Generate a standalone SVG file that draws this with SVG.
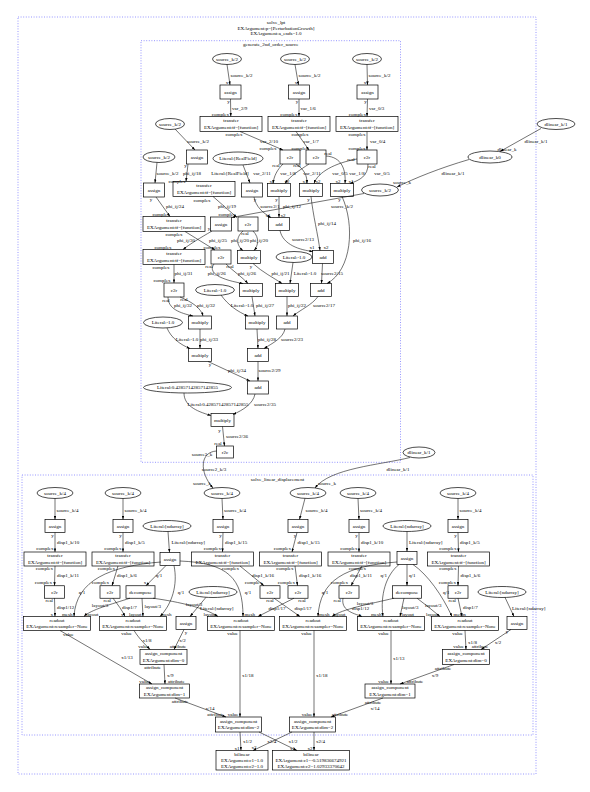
<svg xmlns="http://www.w3.org/2000/svg" width="590" height="792" viewBox="0 0 590 792">
<defs>
<marker id="ah" viewBox="0 0 6 4" refX="6" refY="2" markerWidth="3.6" markerHeight="2.6" orient="auto" markerUnits="userSpaceOnUse"><path d="M0,0L6,2L0,4z" fill="#000"/></marker>
<style>
text{font-family:"Liberation Serif","Times New Roman",serif;font-size:5px;fill:#000}
.n,.l{text-anchor:middle}
.s{text-anchor:start}
.r{text-anchor:end}
.b{fill:#fff;stroke:#000;stroke-width:0.7}
.cl{fill:none;stroke:#8a8aff;stroke-width:0.9;stroke-dasharray:1 1.6}
.e path{fill:none;stroke:#000;stroke-width:0.55;marker-end:url(#ah)}
</style>
</defs>
<rect width="590" height="792" fill="#fff"/>
<g id="clusters">
<rect class="cl" x="18" y="17" width="518" height="757"/>
<rect class="cl" x="141" y="40.7" width="259.5" height="421.6"/>
<rect class="cl" x="22" y="475" width="511" height="260"/>
<text class="n" x="276" y="23.5">solve_lpt</text>
<text class="n" x="276" y="29.5">EXArgument:p=[PerturbationGrowth]</text>
<text class="n" x="276" y="35.3">EXArgument:a_ends=1.0</text>
<text class="n" x="270.7" y="46">generate_2nd_order_source</text>
<text class="n" x="277.5" y="481">solve_linear_displacement</text>
</g>
<g id="nodes">
<g id="sA"><ellipse class="b" cx="227" cy="59" rx="14.5" ry="5.5"/><text class="n" x="227" y="60.8">source_k/2</text></g>
<g id="sB"><ellipse class="b" cx="295" cy="59" rx="14.5" ry="5.5"/><text class="n" x="295" y="60.8">source_k/2</text></g>
<g id="sD"><ellipse class="b" cx="367" cy="59" rx="14.5" ry="5.5"/><text class="n" x="367" y="60.8">source_k/2</text></g>
<g id="sC"><ellipse class="b" cx="170" cy="124" rx="14.5" ry="5.5"/><text class="n" x="170" y="125.8">source_k/2</text></g>
<g id="sE"><ellipse class="b" cx="159" cy="157" rx="16" ry="5.5"/><text class="n" x="159" y="158.8">source_k/2</text></g>
<g id="sF"><ellipse class="b" cx="380" cy="190" rx="18.5" ry="6"/><text class="n" x="380" y="191.8">source_k/2</text></g>
<g id="aA"><rect class="b" x="220" y="85" width="21" height="14"/><text class="n" x="230.5" y="93.8">assign</text></g>
<g id="aB"><rect class="b" x="288.5" y="85" width="21" height="14"/><text class="n" x="299" y="93.8">assign</text></g>
<g id="aD"><rect class="b" x="357" y="85" width="21" height="14"/><text class="n" x="367.5" y="93.8">assign</text></g>
<g id="aC"><rect class="b" x="186.5" y="150" width="21" height="14"/><text class="n" x="197" y="158.8">assign</text></g>
<g id="aRF"><rect class="b" x="241.5" y="183" width="21" height="14"/><text class="n" x="252" y="191.8">assign</text></g>
<g id="aE"><rect class="b" x="143.5" y="183" width="21" height="14"/><text class="n" x="154" y="191.8">assign</text></g>
<g id="aF"><rect class="b" x="210.5" y="217" width="21" height="14"/><text class="n" x="221" y="225.8">assign</text></g>
<g id="tA"><rect class="b" x="200" y="116.5" width="62" height="15"/><text class="n" x="231" y="122.3">transfer</text><text class="n" x="231" y="128.5">EXArgument:tf=[function]</text></g>
<g id="tB"><rect class="b" x="268" y="116.5" width="62" height="15"/><text class="n" x="299" y="122.3">transfer</text><text class="n" x="299" y="128.5">EXArgument:tf=[function]</text></g>
<g id="tD"><rect class="b" x="336" y="116.5" width="62" height="15"/><text class="n" x="367" y="122.3">transfer</text><text class="n" x="367" y="128.5">EXArgument:tf=[function]</text></g>
<g id="tC"><rect class="b" x="173" y="181.5" width="62" height="15"/><text class="n" x="204" y="187.3">transfer</text><text class="n" x="204" y="193.5">EXArgument:tf=[function]</text></g>
<g id="tE"><rect class="b" x="143" y="216.5" width="62" height="15"/><text class="n" x="174" y="222.3">transfer</text><text class="n" x="174" y="228.5">EXArgument:tf=[function]</text></g>
<g id="tF"><rect class="b" x="143" y="249.5" width="62" height="15"/><text class="n" x="174" y="255.3">transfer</text><text class="n" x="174" y="261.5">EXArgument:tf=[function]</text></g>
<g id="LRF"><ellipse class="b" cx="238" cy="158.5" rx="25" ry="6.5"/><text class="n" x="238" y="160.3">Literal:[RealField]</text></g>
<g id="cA"><rect class="b" x="280" y="150" width="20" height="14"/><text class="n" x="290" y="158.8">c2r</text></g>
<g id="cB"><rect class="b" x="306" y="150" width="20" height="14"/><text class="n" x="316" y="158.8">c2r</text></g>
<g id="cD"><rect class="b" x="357" y="150" width="20" height="14"/><text class="n" x="367" y="158.8">c2r</text></g>
<g id="cC"><rect class="b" x="238" y="217" width="20" height="14"/><text class="n" x="248" y="225.8">c2r</text></g>
<g id="cE"><rect class="b" x="211" y="250" width="20" height="14"/><text class="n" x="221" y="258.8">c2r</text></g>
<g id="cF"><rect class="b" x="164" y="283" width="20" height="14"/><text class="n" x="174" y="291.8">c2r</text></g>
<g id="m1"><rect class="b" x="267.5" y="183.5" width="23" height="13"/><text class="n" x="279" y="191.8">multiply</text></g>
<g id="m2"><rect class="b" x="299.5" y="183.5" width="23" height="13"/><text class="n" x="311" y="191.8">multiply</text></g>
<g id="m3"><rect class="b" x="330.5" y="183.5" width="23" height="13"/><text class="n" x="342" y="191.8">multiply</text></g>
<g id="mC1"><rect class="b" x="237.5" y="250.5" width="23" height="13"/><text class="n" x="249" y="258.8">multiply</text></g>
<g id="mC2"><rect class="b" x="275.5" y="283.5" width="23" height="13"/><text class="n" x="287" y="291.8">multiply</text></g>
<g id="mE1"><rect class="b" x="239.5" y="283.5" width="23" height="13"/><text class="n" x="251" y="291.8">multiply</text></g>
<g id="mE2"><rect class="b" x="245.5" y="316" width="23" height="13"/><text class="n" x="257" y="324.3">multiply</text></g>
<g id="mF1"><rect class="b" x="188.5" y="316" width="23" height="13"/><text class="n" x="200" y="324.3">multiply</text></g>
<g id="mF2"><rect class="b" x="188.5" y="348.5" width="23" height="13"/><text class="n" x="200" y="356.8">multiply</text></g>
<g id="mL"><rect class="b" x="211" y="413.5" width="23" height="13"/><text class="n" x="222.5" y="421.8">multiply</text></g>
<g id="ad1"><rect class="b" x="268.5" y="217.5" width="21" height="13"/><text class="n" x="279" y="225.8">add</text></g>
<g id="ad2"><rect class="b" x="312.5" y="250.5" width="21" height="13"/><text class="n" x="323" y="258.8">add</text></g>
<g id="ad3"><rect class="b" x="310.5" y="283.5" width="21" height="13"/><text class="n" x="321" y="291.8">add</text></g>
<g id="ad4"><rect class="b" x="276.5" y="316" width="21" height="13"/><text class="n" x="287" y="324.3">add</text></g>
<g id="ad5"><rect class="b" x="247.5" y="348.5" width="21" height="13"/><text class="n" x="258" y="356.8">add</text></g>
<g id="ad6"><rect class="b" x="247.5" y="381" width="21" height="13"/><text class="n" x="258" y="389.3">add</text></g>
<g id="lC"><ellipse class="b" cx="294" cy="257" rx="18" ry="5.5"/><text class="n" x="294" y="258.8">Literal:-1.0</text></g>
<g id="lE"><ellipse class="b" cx="215" cy="290" rx="19.5" ry="5.5"/><text class="n" x="215" y="291.8">Literal:-1.0</text></g>
<g id="lF"><ellipse class="b" cx="163" cy="322.5" rx="19.5" ry="5.5"/><text class="n" x="163" y="324.3">Literal:-1.0</text></g>
<g id="L0428"><ellipse class="b" cx="187.5" cy="387.5" rx="44" ry="5.5"/><text class="n" x="187.5" y="389.3">Literal:0.42857142857142855</text></g>
<g id="r2c"><rect class="b" x="216.5" y="446" width="17" height="12"/><text class="n" x="225" y="453.8">r2c</text></g>
<g id="dlT"><ellipse class="b" cx="556" cy="124" rx="19" ry="5.5"/><text class="n" x="556" y="125.8">dlinear_k/1</text></g>
<g id="dl0"><ellipse class="b" cx="490" cy="157" rx="22" ry="6"/><text class="n" x="490" y="158.8">dlinear_k0</text></g>
<g id="dlB"><ellipse class="b" cx="419" cy="452.5" rx="16" ry="5.5"/><text class="n" x="419" y="454.3">dlinear_k/1</text></g>
<g id="k4a"><ellipse class="b" cx="55" cy="493" rx="18" ry="5.5"/><text class="n" x="55" y="494.8">source_k/4</text></g>
<g id="k4b"><ellipse class="b" cx="123" cy="493" rx="18" ry="5.5"/><text class="n" x="123" y="494.8">source_k/4</text></g>
<g id="k4c"><ellipse class="b" cx="222" cy="493" rx="18" ry="5.5"/><text class="n" x="222" y="494.8">source_k/4</text></g>
<g id="k4d"><ellipse class="b" cx="308" cy="493" rx="18" ry="5.5"/><text class="n" x="308" y="494.8">source_k/4</text></g>
<g id="k4e"><ellipse class="b" cx="358" cy="493" rx="18" ry="5.5"/><text class="n" x="358" y="494.8">source_k/4</text></g>
<g id="k4f"><ellipse class="b" cx="458" cy="493" rx="18" ry="5.5"/><text class="n" x="458" y="494.8">source_k/4</text></g>
<g id="nd1"><ellipse class="b" cx="167" cy="526" rx="24" ry="5.5"/><text class="n" x="167" y="527.8">Literal:[ndarray]</text></g>
<g id="nd2"><ellipse class="b" cx="407" cy="526" rx="24" ry="5.5"/><text class="n" x="407" y="527.8">Literal:[ndarray]</text></g>
<g id="nd3"><ellipse class="b" cx="213" cy="592" rx="24" ry="5.5"/><text class="n" x="213" y="593.8">Literal:[ndarray]</text></g>
<g id="nd4"><ellipse class="b" cx="502" cy="592" rx="24" ry="5.5"/><text class="n" x="502" y="593.8">Literal:[ndarray]</text></g>
<g id="ba1"><rect class="b" x="45" y="519.5" width="20" height="13"/><text class="n" x="55" y="527.8">assign</text></g>
<g id="ba2"><rect class="b" x="113" y="519.5" width="20" height="13"/><text class="n" x="123" y="527.8">assign</text></g>
<g id="ba3"><rect class="b" x="213" y="519.5" width="20" height="13"/><text class="n" x="223" y="527.8">assign</text></g>
<g id="ba4"><rect class="b" x="288" y="519.5" width="20" height="13"/><text class="n" x="298" y="527.8">assign</text></g>
<g id="ba5"><rect class="b" x="349" y="519.5" width="20" height="13"/><text class="n" x="359" y="527.8">assign</text></g>
<g id="ba6"><rect class="b" x="448" y="519.5" width="20" height="13"/><text class="n" x="458" y="527.8">assign</text></g>
<g id="bq1"><rect class="b" x="160" y="552.5" width="20" height="13"/><text class="n" x="170" y="560.8">assign</text></g>
<g id="bq2"><rect class="b" x="397" y="551.5" width="20" height="13"/><text class="n" x="407" y="559.8">assign</text></g>
<g id="bv1"><rect class="b" x="176" y="616.5" width="20" height="13"/><text class="n" x="186" y="624.8">assign</text></g>
<g id="bv2"><rect class="b" x="507" y="616.5" width="20" height="13"/><text class="n" x="517" y="624.8">assign</text></g>
<g id="bt1"><rect class="b" x="24" y="552" width="62" height="14"/><text class="n" x="55" y="557.3">transfer</text><text class="n" x="55" y="563.5">EXArgument:tf=[function]</text></g>
<g id="bt2"><rect class="b" x="92" y="552" width="62" height="14"/><text class="n" x="123" y="557.3">transfer</text><text class="n" x="123" y="563.5">EXArgument:tf=[function]</text></g>
<g id="bt3"><rect class="b" x="191.5" y="552" width="62" height="14"/><text class="n" x="222.5" y="557.3">transfer</text><text class="n" x="222.5" y="563.5">EXArgument:tf=[function]</text></g>
<g id="bt4"><rect class="b" x="259.5" y="552" width="62" height="14"/><text class="n" x="290.5" y="557.3">transfer</text><text class="n" x="290.5" y="563.5">EXArgument:tf=[function]</text></g>
<g id="bt5"><rect class="b" x="328" y="552" width="62" height="14"/><text class="n" x="359" y="557.3">transfer</text><text class="n" x="359" y="563.5">EXArgument:tf=[function]</text></g>
<g id="bt6"><rect class="b" x="427.5" y="552" width="62" height="14"/><text class="n" x="458.5" y="557.3">transfer</text><text class="n" x="458.5" y="563.5">EXArgument:tf=[function]</text></g>
<g id="bc1"><rect class="b" x="44.5" y="585.75" width="20" height="12.5"/><text class="n" x="54.5" y="593.8">c2r</text></g>
<g id="bc2"><rect class="b" x="100" y="585.75" width="20" height="12.5"/><text class="n" x="110" y="593.8">c2r</text></g>
<g id="bc3"><rect class="b" x="260" y="585.75" width="20" height="12.5"/><text class="n" x="270" y="593.8">c2r</text></g>
<g id="bc4"><rect class="b" x="288" y="585.75" width="20" height="12.5"/><text class="n" x="298" y="593.8">c2r</text></g>
<g id="bc5"><rect class="b" x="339" y="585.75" width="20" height="12.5"/><text class="n" x="349" y="593.8">c2r</text></g>
<g id="bc6"><rect class="b" x="448" y="585.75" width="20" height="12.5"/><text class="n" x="458" y="593.8">c2r</text></g>
<g id="dc1"><rect class="b" x="126" y="585.75" width="29" height="12.5"/><text class="n" x="140.5" y="593.8">decompose</text></g>
<g id="dc2"><rect class="b" x="392.5" y="585.75" width="29" height="12.5"/><text class="n" x="407" y="593.8">decompose</text></g>
<g id="ro1"><rect class="b" x="23.5" y="616.5" width="67" height="14"/><text class="n" x="57" y="621.8">readout</text><text class="n" x="57" y="628">EXArgument:resampler=None</text></g>
<g id="ro2"><rect class="b" x="99.5" y="616.5" width="67" height="14"/><text class="n" x="133" y="621.8">readout</text><text class="n" x="133" y="628">EXArgument:resampler=None</text></g>
<g id="ro3"><rect class="b" x="207.5" y="616.5" width="67" height="14"/><text class="n" x="241" y="621.8">readout</text><text class="n" x="241" y="628">EXArgument:resampler=None</text></g>
<g id="ro4"><rect class="b" x="279.5" y="616.5" width="67" height="14"/><text class="n" x="313" y="621.8">readout</text><text class="n" x="313" y="628">EXArgument:resampler=None</text></g>
<g id="ro5"><rect class="b" x="357.5" y="616.5" width="67" height="14"/><text class="n" x="391" y="621.8">readout</text><text class="n" x="391" y="628">EXArgument:resampler=None</text></g>
<g id="ro6"><rect class="b" x="431.5" y="616.5" width="67" height="14"/><text class="n" x="465" y="621.8">readout</text><text class="n" x="465" y="628">EXArgument:resampler=None</text></g>
<g id="ac0a"><rect class="b" x="140" y="649.5" width="47" height="15"/><text class="n" x="163.5" y="655.3">assign_component</text><text class="n" x="163.5" y="661.5">EXArgument:dim=0</text></g>
<g id="ac0b"><rect class="b" x="442.5" y="649.5" width="47" height="15"/><text class="n" x="466" y="655.3">assign_component</text><text class="n" x="466" y="661.5">EXArgument:dim=0</text></g>
<g id="ac1a"><rect class="b" x="139.5" y="684" width="50" height="14"/><text class="n" x="164.5" y="689.3">assign_component</text><text class="n" x="164.5" y="695.5">EXArgument:dim=1</text></g>
<g id="ac1b"><rect class="b" x="365" y="684" width="50" height="14"/><text class="n" x="390" y="689.3">assign_component</text><text class="n" x="390" y="695.5">EXArgument:dim=1</text></g>
<g id="ac2a"><rect class="b" x="215.5" y="717" width="46" height="15"/><text class="n" x="238.5" y="722.8">assign_component</text><text class="n" x="238.5" y="729">EXArgument:dim=2</text></g>
<g id="ac2b"><rect class="b" x="289.5" y="717" width="46" height="15"/><text class="n" x="312.5" y="722.8">assign_component</text><text class="n" x="312.5" y="729">EXArgument:dim=2</text></g>
<g id="bilA"><rect class="b" x="216" y="750.5" width="52" height="19.5"/><text class="n" x="242" y="756.2">bilinear</text><text class="n" x="242" y="762">EXArgument:c1=1.0</text><text class="n" x="242" y="767.8">EXArgument:c2=1.0</text></g>
<g id="bilB"><rect class="b" x="272.5" y="750.5" width="77" height="19.5"/><text class="n" x="311" y="756.2">bilinear</text><text class="n" x="311" y="762">EXArgument:c1=-0.519836674921</text><text class="n" x="311" y="767.8">EXArgument:c2=1.02933370642</text></g>
</g>
<g id="connectors">
<g class="e">
<path d="M227,64.5L230,85"/><path d="M295,64.5L298.5,85"/><path d="M367,64.5L367.5,85"/>
<path d="M230.5,99L230.8,116.5"/><path d="M299,99L299,116.5"/><path d="M367.5,99L367,116.5"/>
<path d="M240,131.5L283,150"/><path d="M296,131.5L309,150"/><path d="M367,131.5L367,150"/>
<path d="M175,129L195,150"/><path d="M188,164L186,181.5"/><path d="M157,162.5L155,183"/>
<path d="M243,165L250,183"/>
<path d="M283,164C277,170 274,176 273,183.5"/><path d="M309,164C300,170 290,176 285,183.5"/>
<path d="M296,164C305,170 307,176 307,183.5"/><path d="M357,159C335,163 318,172 314,183.5"/>
<path d="M326,156C342,157 346,170 345,183.5"/><path d="M368,164C368,176 360,180 350,183.5"/>
<path d="M254,197C256,207 263,213 271,217.5"/><path d="M279,196.5L279,217.5"/>
<path d="M311,196.5C313,215 318,235 320,250.5"/><path d="M342,196.5C355,225 352,270 327,283.5"/>
<path d="M280,230.5C283,245 300,250 313,251.5"/><path d="M322.5,263.5L321.5,283.5"/>
<path d="M541,128.5L500,151.5"/><path d="M469,159.5C440,168 415,178 397,187"/>
<path d="M364,193.5L231.5,217.5"/>
<path d="M213,196.5L237,217.5"/><path d="M156,197L170,216.5"/>
<path d="M243,231C235,238 237,246 243,250.5"/><path d="M253,231C260,238 258,246 254,250.5"/>
<path d="M185,231.5L215,250"/><path d="M212,231C200,238 190,244 183,249.5"/>
<path d="M253,263.5C262,272 274,278 282,283.5"/><path d="M293,262.5L290,283.5"/>
<path d="M214,264C206,275 228,281 243,283.5"/><path d="M226,264C233,271 242,277 248,283.5"/>
<path d="M252,296.5L255,316"/><path d="M221,295C228,305 238,312 248,316"/>
<path d="M287,296.5L287,316"/><path d="M318,296.5C312,305 300,310 293,316"/>
<path d="M174,264.5L174,283"/>
<path d="M168,297C168,309 180,313 193,316"/><path d="M180,297C192,302 201,308 203,316"/>
<path d="M200,329L200,348.5"/><path d="M167,328C171,338 181,345 190,348.5"/>
<path d="M257,329L258,348.5"/><path d="M285,329C283,338 273,343 264,348.5"/>
<path d="M208,361.5L250,381"/><path d="M258,361.5L258,381"/>
<path d="M184,393C184,405 195,411 211,415.5"/><path d="M255,394C253,404 243,410 233,414.5"/>
<path d="M222.5,426.5L224.5,446"/>
<path d="M216.5,451C200,452 199,472 213,488"/>
<path d="M410,457.5C380,465 330,468 315,488"/>
<path d="M55,498.5L55,519.5"/><path d="M123,498.5L123,519.5"/><path d="M222,498.5L223,519.5"/>
<path d="M305,498.3L299.5,519.5"/><path d="M358,498.5L359,519.5"/><path d="M458,498.5L458,519.5"/>
<path d="M55,532.5L55,552"/><path d="M123,532.5L123,552"/><path d="M223,532.5L222.5,552"/>
<path d="M297,532.5L292,552"/><path d="M359,532.5L359,552"/><path d="M458,532.5L458.5,552"/>
<path d="M168,531.5L169.5,552.5"/><path d="M407,531.5L407,551.5"/>
<path d="M55,566L54.5,585.7"/><path d="M118,566L112,585.7"/><path d="M240,566L264,585.7"/>
<path d="M295,566L297.5,585.7"/><path d="M362,566L351,585.7"/><path d="M458.5,566L458,585.7"/>
<path d="M166,565.5L146,585.7"/><path d="M161,562C110,566 76,580 74,616.5"/>
<path d="M174,565.5C178,585 172,604 160,616.5"/><path d="M180,561C228,563 243,578 243,616.5"/>
<path d="M130,598.2C112,604 90,610 84,616.5"/><path d="M142,598.2L143,616.5"/>
<path d="M153,598.2C180,602 205,608 218,616.5"/>
<path d="M54.5,598.2L55,616.5"/><path d="M113,598.2C118,605 122,610 125,616.5"/>
<path d="M274,598.2L300,616.5"/><path d="M294,598.2L258,616.5"/>
<path d="M343,598.2C341,610 352,613 362,616.5"/><path d="M458,598.2L462,616.5"/>
<path d="M407,564.5L407,585.7"/><path d="M399,564.5C386,575 380,595 383,616.5"/>
<path d="M397,562C345,566 320,580 318,616.5"/><path d="M413,564.5C428,575 442,595 452,616.5"/>
<path d="M394,598.2C370,604 342,609 332,616.5"/><path d="M404,598.2L400,616.5"/>
<path d="M417,598.2C425,604 432,610 440,616.5"/>
<path d="M206,597.3L190,616.5"/><path d="M505,597.4L514,616.5"/>
<path d="M134,630.5C140,640 146,645 150,649.5"/><path d="M184,629.5L174,649.5"/>
<path d="M60,630.5L152,684"/><path d="M164,664.5L165,684"/><path d="M175,698L226,717"/>
<path d="M240,630.5L240,717"/><path d="M314,630.5L314,717"/><path d="M391,630.5L391,684"/>
<path d="M465,630.5L466,649.5"/><path d="M511,629.5L481,649.5"/>
<path d="M454,664.5L400,684"/><path d="M383,698L331,717"/>
<path d="M240,732L241,750.5"/><path d="M259,732L297,750.5"/>
<path d="M292,732L253,750.5"/><path d="M314,732L314,750.5"/>
</g>
<g id="labels">
<text class="s" x="230.5" y="76.8">source_k/2</text><text class="s" x="298.5" y="76.8">source_k/2</text><text class="s" x="368.5" y="76.8">source_k/2</text>
<text class="l" x="227" y="84">x</text><text class="l" x="296" y="84">x</text><text class="l" x="365" y="84">x</text>
<text class="l" x="228.5" y="102.8">y</text><text class="s" x="232" y="109.5">var_2/9</text><text class="r" x="229" y="116">complex</text>
<text class="l" x="297" y="102.8">y</text><text class="s" x="300.5" y="109.5">var_1/6</text><text class="r" x="297.5" y="116">complex</text>
<text class="l" x="365.5" y="102.8">y</text><text class="s" x="369" y="109.5">var_0/3</text><text class="r" x="366" y="116">complex</text>
<text class="l" x="234" y="136">complex</text><text class="l" x="269" y="142.8">var_2/10</text><text class="l" x="268" y="149.7">complex</text>
<text class="l" x="300" y="136">complex</text><text class="l" x="311" y="142.8">var_1/7</text><text class="l" x="300" y="149.5">complex</text>
<text class="l" x="357" y="136">complex</text><text class="s" x="370" y="142.8">var_0/4</text><text class="l" x="357" y="149.5">complex</text>
<text class="l" x="198" y="142.8">source_k/2</text>
<text class="l" x="185.5" y="166.5">y</text><text class="l" x="192" y="174.7">phi_ij/18</text><text class="l" x="177" y="182.5">complex</text>
<text class="l" x="167.5" y="174.7">source_k/2</text><text class="l" x="230" y="174.7">Literal:[RealField]</text>
<text class="l" x="276" y="167">real</text><text class="l" x="297" y="167">real</text><text class="l" x="328" y="154.5">real</text><text class="l" x="351" y="160.5">real</text><text class="l" x="372" y="168">real</text>
<text class="l" x="262" y="174.7">var_2/11</text><text class="l" x="288" y="174.7">var_1/8</text><text class="l" x="312" y="174.7">var_2/11</text>
<text class="l" x="340" y="174.7">var_0/5</text><text class="l" x="357" y="174.7">var_1/8</text><text class="l" x="382" y="174.7">var_0/5</text>
<text class="l" x="272" y="182.5">x1</text><text class="l" x="287" y="182.5">x2</text><text class="l" x="305" y="182.5">x1</text><text class="l" x="318" y="182.5">x2</text><text class="l" x="338" y="182.5">x2</text><text class="l" x="351" y="182.5">x1</text>
<text class="l" x="536" y="142.7">dlinear_k/1</text><text class="l" x="507" y="150.7">dlinear_k</text>
<text class="l" x="453" y="174.7">dlinear_k/1</text><text class="l" x="402" y="184.4">source_k</text>
<text class="l" x="342" y="208.4">source_k/2</text>
<text class="l" x="255" y="201">y</text><text class="l" x="270" y="208.4">source2/1</text><text class="l" x="276.5" y="201">y</text><text class="l" x="292" y="208.4">phi_ij/12</text>
<text class="l" x="268" y="216.5">x1</text><text class="l" x="283" y="216.5">x2</text>
<text class="l" x="308.5" y="201">y</text><text class="l" x="327" y="225">phi_ij/14</text><text class="l" x="339.5" y="201">y</text><text class="l" x="362" y="241.7">phi_ij/16</text>
<text class="l" x="303" y="240.8">source2/13</text><text class="l" x="312" y="249">x1</text><text class="l" x="326" y="249">x2</text>
<text class="l" x="332" y="275">source2/15</text>
<text class="l" x="202" y="201.7">complex</text><text class="l" x="227" y="208.4">phi_ij/19</text><text class="l" x="227" y="215.7">complex</text>
<text class="l" x="151" y="200.5">y</text><text class="l" x="175" y="208.4">phi_ij/24</text><text class="l" x="161" y="215.7">complex</text>
<text class="l" x="209" y="229.5">y</text><text class="l" x="245" y="234.5">real</text>
<text class="l" x="240" y="241.7">phi_ij/20</text><text class="l" x="259" y="241.7">phi_ij/20</text>
<text class="l" x="174" y="236">complex</text><text class="l" x="186" y="241.7">phi_ij/30</text><text class="l" x="218" y="241.7">phi_ij/25</text>
<text class="l" x="163" y="249">complex</text><text class="l" x="212" y="249">complex</text>
<text class="l" x="251" y="267.5">y</text><text class="l" x="280.5" y="275">phi_ij/21</text><text class="l" x="305" y="275">Literal:-1.0</text>
<text class="l" x="209" y="268">real</text><text class="l" x="230" y="268">real</text>
<text class="l" x="216.7" y="275">phi_ij/26</text><text class="l" x="247" y="275">phi_ij/26</text>
<text class="l" x="161" y="268.5">complex</text><text class="l" x="183.5" y="275">phi_ij/31</text><text class="l" x="162" y="281.7">complex</text>
<text class="l" x="166" y="301.5">real</text><text class="l" x="184" y="301">real</text>
<text class="l" x="183" y="306.7">phi_ij/32</text><text class="l" x="206" y="306.7">phi_ij/32</text>
<text class="l" x="242" y="306.7">Literal:-1.0</text><text class="l" x="265" y="306.7">phi_ij/27</text>
<text class="l" x="297" y="306.7">phi_ij/22</text><text class="l" x="324" y="306.7">source2/17</text>
<text class="l" x="187" y="340.7">Literal:-1.0</text><text class="l" x="209" y="340.7">phi_ij/33</text>
<text class="l" x="267" y="340.7">phi_ij/28</text><text class="l" x="292" y="340.7">source2/23</text>
<text class="l" x="210" y="366">y</text><text class="l" x="237" y="372.4">phi_ij/34</text><text class="l" x="269.5" y="372.4">source2/29</text>
<text class="l" x="218" y="405.7">Literal:0.42857142857142855</text><text class="l" x="265" y="405.7">source2/35</text>
<text class="l" x="219.5" y="431.5">y</text><text class="l" x="237" y="438.4">source2/36</text><text class="l" x="218" y="445">real</text>
<text class="l" x="202" y="455.7">source2_k</text><text class="l" x="214" y="471">source2_k/3</text><text class="l" x="202" y="484.7">source_k</text>
<text class="l" x="398" y="471">dlinear_k/1</text><text class="l" x="327" y="485">source_k</text>
<text class="s" x="56.5" y="511.5">source_k/4</text><text class="s" x="124.5" y="511.5">source_k/4</text><text class="s" x="224" y="511.5">source_k/4</text>
<text class="s" x="305.5" y="511.5">source_k/4</text><text class="s" x="360" y="511.5">source_k/4</text><text class="s" x="459.5" y="511.5">source_k/4</text>
<text class="l" x="52.5" y="537">y</text><text class="s" x="57" y="543.7">disp1_k/10</text><text class="r" x="53.5" y="550">complex</text>
<text class="l" x="120.5" y="537">y</text><text class="s" x="125" y="543.7">disp1_k/5</text><text class="r" x="121.5" y="550">complex</text>
<text class="l" x="220.5" y="537">y</text><text class="s" x="225" y="543.7">disp1_k/15</text><text class="r" x="221" y="550">complex</text>
<text class="l" x="295" y="537">y</text><text class="s" x="297.5" y="543.7">disp1_k/15</text><text class="r" x="291" y="550">complex</text>
<text class="l" x="356.5" y="537">y</text><text class="s" x="361" y="543.7">disp1_k/10</text><text class="r" x="357.5" y="550">complex</text>
<text class="l" x="455.5" y="537">y</text><text class="s" x="460" y="543.7">disp1_k/5</text><text class="r" x="456.5" y="550">complex</text>
<text class="s" x="171.5" y="543.7">Literal:[ndarray]</text><text class="s" x="409" y="543.7">Literal:[ndarray]</text>
<text class="r" x="53" y="569.7">complex</text><text class="s" x="57" y="576.7">disp1_k/11</text><text class="r" x="52" y="584">complex</text>
<text class="r" x="115" y="569.7">complex</text><text class="s" x="117" y="576.7">disp1_k/6</text><text class="r" x="109" y="584">complex</text>
<text class="r" x="239" y="569.7">complex</text><text class="l" x="263" y="576.7">disp1_k/16</text><text class="r" x="262" y="584">complex</text>
<text class="r" x="293.5" y="569.7">complex</text><text class="s" x="299" y="576.7">disp1_k/16</text><text class="r" x="295" y="584">complex</text>
<text class="r" x="366" y="569.7">complex</text><text class="l" x="361" y="576.7">disp1_k/11</text><text class="r" x="348" y="584">complex</text>
<text class="r" x="456.5" y="569.7">complex</text><text class="s" x="460.5" y="576.7">disp1_k/6</text><text class="r" x="456" y="584">complex</text>
<text class="l" x="159" y="576.7">q/1</text><text class="l" x="145" y="584">x</text>
<text class="l" x="82" y="593.7">q/1</text><text class="l" x="181" y="593.7">q/1</text><text class="l" x="248" y="593.7">q/1</text>
<text class="s" x="409" y="576.7">q/1</text><text class="r" x="387" y="576.7">q/1</text><text class="l" x="325" y="593.7">q/1</text><text class="s" x="443" y="593.7">q/1</text>
<text class="l" x="100" y="606.5">layout/3</text><text class="s" x="144.5" y="608">layout/3</text><text class="l" x="194" y="606">layout/3</text>
<text class="l" x="365" y="605">layout/3</text><text class="s" x="402" y="609">layout/3</text><text class="s" x="425" y="606.5">layout/3</text>
<text class="r" x="53" y="602">real</text><text class="s" x="57" y="608.5">disp1/12</text>
<text class="r" x="111" y="602">real</text><text class="s" x="122" y="608.8">disp1/7</text>
<text class="l" x="270" y="602">real</text><text class="l" x="302" y="602">real</text>
<text class="l" x="303" y="609.5">disp1/17</text><text class="l" x="277" y="609.5">disp1/17</text>
<text class="r" x="341" y="602">real</text><text class="s" x="352" y="609.5">disp1/12</text>
<text class="r" x="456" y="602">real</text><text class="s" x="463" y="608.5">disp1/7</text>
<text class="s" x="200" y="609.5">Literal:[ndarray]</text><text class="s" x="512" y="609.5">Literal:[ndarray]</text>
<text class="r" x="53" y="615.5">x</text><text class="r" x="72.5" y="615.5">mesh</text><text class="s" x="86" y="615.5">layout</text>
<text class="r" x="123.5" y="615.5">x</text><text class="r" x="141.5" y="615.5">layout</text><text class="s" x="161" y="615.5">mesh</text>
<text class="r" x="216" y="615.5">layout</text><text class="s" x="244.5" y="615.5">mesh</text><text class="s" x="259" y="615.5">x</text>
<text class="r" x="298.5" y="615.5">x</text><text class="s" x="319" y="615.5">mesh</text><text class="s" x="333" y="615.5">layout</text>
<text class="r" x="381.5" y="615.5">mesh</text><text class="s" x="401.5" y="615.5">layout</text><text class="r" x="361" y="615.5">x</text>
<text class="r" x="438.5" y="615.5">layout</text><text class="s" x="453.5" y="615.5">mesh</text><text class="s" x="463.5" y="615.5">x</text>
<text class="r" x="132" y="635">value</text><text class="l" x="147" y="641.7">x1/8</text><text class="r" x="149" y="648">value</text>
<text class="l" x="186" y="633.5">y</text><text class="l" x="182.5" y="641.7">x/2</text><text class="l" x="178" y="648">attribute</text>
<text class="s" x="63" y="636">value</text><text class="l" x="127" y="658.7">x1/13</text><text class="r" x="150" y="683">value</text>
<text class="r" x="161" y="668.5">attribute</text><text class="s" x="167" y="676.7">x/9</text><text class="s" x="168" y="683">attribute</text>
<text class="l" x="180" y="703">attribute</text><text class="l" x="210" y="709.5">x/14</text><text class="r" x="224" y="715.5">attribute</text>
<text class="r" x="238" y="635">value</text><text class="s" x="242" y="676.7">x1/18</text><text class="r" x="238.5" y="715.5">value</text>
<text class="r" x="312" y="635">value</text><text class="s" x="316" y="676.7">x1/18</text><text class="r" x="312.5" y="715.5">value</text>
<text class="r" x="389" y="635">value</text><text class="s" x="393" y="659.5">x1/13</text><text class="r" x="389" y="682.5">value</text>
<text class="r" x="463" y="635">value</text><text class="s" x="468" y="643.5">x1/8</text><text class="r" x="464" y="648">value</text>
<text class="l" x="507" y="632.5">y</text><text class="l" x="498" y="643.5">x/2</text><text class="l" x="480" y="648">attribute</text>
<text class="l" x="443" y="669.5">attribute</text><text class="l" x="435" y="676.7">x/9</text><text class="l" x="415" y="682.5">attribute</text>
<text class="l" x="373" y="703.5">attribute</text><text class="l" x="375" y="710">x/14</text><text class="l" x="340" y="716">attribute</text>
<text class="s" x="243" y="742.7">x1/2</text><text class="l" x="271.7" y="742.7">x2/4</text><text class="l" x="293" y="742.7">x1/2</text><text class="s" x="316" y="742.7">x2/4</text>
<text class="r" x="239.5" y="749.5">x1</text><text class="l" x="254" y="749">x2</text><text class="r" x="295" y="750">x1</text><text class="r" x="312.5" y="749.5">x2</text>
</g>
</g>
</svg>
